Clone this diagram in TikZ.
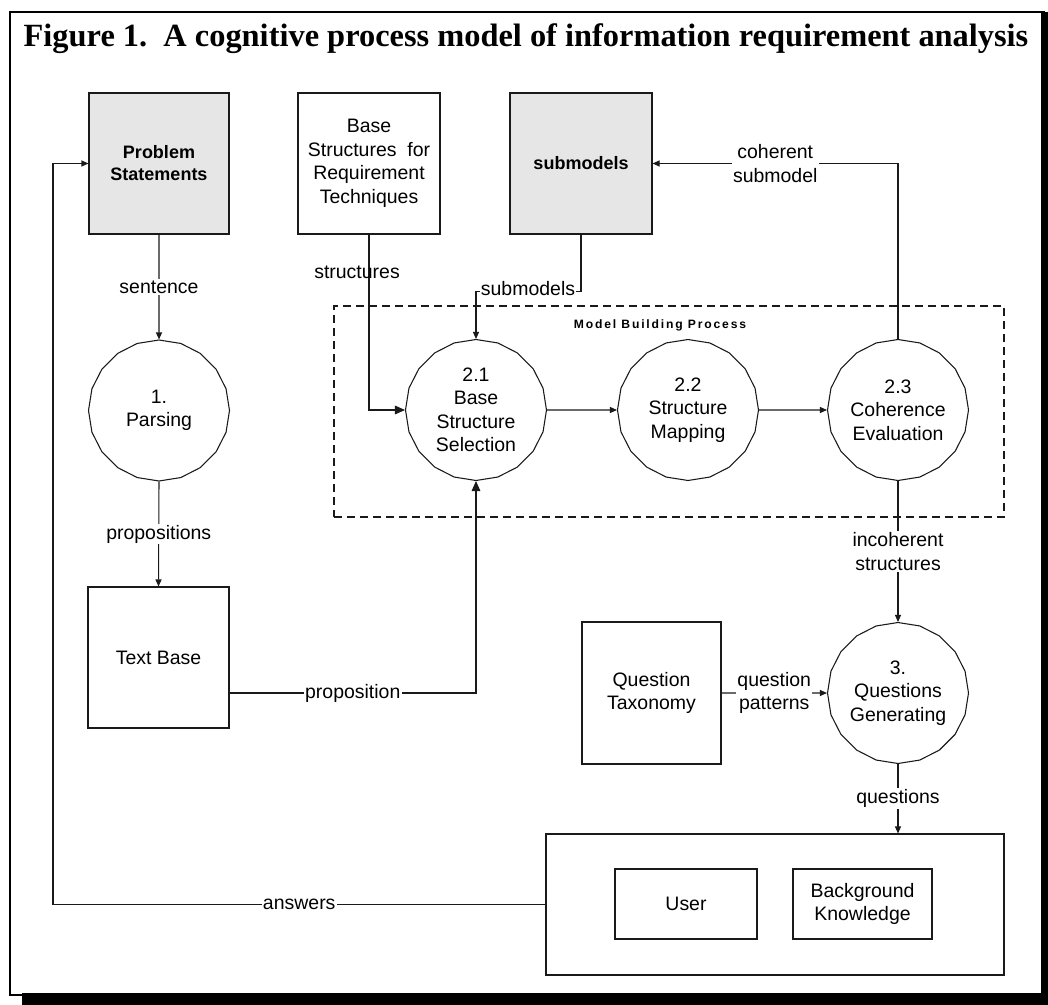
\documentclass[tikz,border=0pt]{standalone}
\usepackage{fontspec}
\setmainfont{Liberation Sans}
\newfontfamily\titlefont{Liberation Serif}
\usetikzlibrary{shapes.geometric,arrows.meta}
\newcommand\diagfont{\fontsize{14.6}{17.6}\selectfont}
\newcommand\diagbold{\fontsize{13.5}{16.5}\selectfont\bfseries}
\definecolor{linec}{HTML}{1A1A1A}
\definecolor{boxgray}{HTML}{E6E6E6}
\begin{document}
\begin{tikzpicture}[x=0.75pt,y=-0.75pt,
  every node/.style={font=\diagfont},
  box/.style={draw=linec, line width=0.8pt, fill=white, inner sep=0pt, align=center},
  graybox/.style={box, fill=boxgray, font=\diagbold},
  proc/.style={regular polygon, regular polygon sides=20, shape border rotate=9,
     draw=linec, line width=0.8pt, fill=white, minimum size=105.75pt, inner sep=0pt, align=center},
  conn/.style={draw=linec, line width=0.8pt},
  arr/.style={conn, -{Triangle[length=5.25pt,width=4.5pt]}},
  bigarr/.style={conn, -{Triangle[length=7.5pt,width=6.5pt]}},
  lbl/.style={fill=white, inner sep=1pt, align=center},
  plainlbl/.style={inner sep=1pt, align=center},
]
\useasboundingbox (0,0) rectangle (1048,1005);
% frame
\draw[line width=2pt] (10,12) rectangle (1044,995);
\fill (1041,12) rectangle (1048,1005);
\fill (22,993) rectangle (1048,1005);
% title
\node[anchor=base, font=\titlefont\bfseries\fontsize{24.3}{28}\selectfont] (title) at (526,47)
  {Figure 1.\ \ A cognitive process model of information requirement analysis};

% dashed group
\node[draw=linec, line width=0.8pt, dash pattern=on 6pt off 3.75pt,
      minimum width=502.5pt, minimum height=158.25pt, inner sep=0pt] (mbp) at (669,411.5) {};
\node[font=\fontsize{9.1}{11}\selectfont\bfseries\addfontfeature{LetterSpace=15}] (mbplbl) at (660,325) {Model Building Process};

% stores
\node[graybox, minimum width=105pt, minimum height=105.75pt] (prob) at (159,163.5) {Problem\\Statements};
\node[box, minimum width=106.5pt, minimum height=105.75pt] (base) at (369,163.5) {Base\\Structures\ \ for\\Requirement\\Techniques};
\node[graybox, minimum width=106.5pt, minimum height=105.75pt] (subm) at (581,163.5) {submodels};
\node[box, minimum width=105.75pt, minimum height=105.75pt] (tb) at (158.5,657.5) {Text Base};
\node[box, minimum width=104.25pt, minimum height=106.5pt] (qt) at (651.5,693) {Question\\Taxonomy};
\node[box, minimum width=343.5pt, minimum height=105.75pt] (big) at (775,904.5) {};
\node[box, minimum width=106.5pt, minimum height=52.5pt] (user) at (686,904) {User};
\node[box, minimum width=104.25pt, minimum height=52.5pt] (bg) at (862.5,904) {Background\\Knowledge};

% processes
\node[proc] (pars) at (159,410.5) {1.\\Parsing};
\node[proc] (p21) at (476,410) {2.1\\Base\\Structure\\Selection};
\node[proc] (p22) at (688,410) {2.2\\Structure\\Mapping};
\node[proc] (p23) at (898,410) {2.3\\Coherence\\Evaluation};
\node[proc] (p3) at (898,693) {3.\\Questions\\Generating};

% connectors
\draw[arr] (prob.south) -- node[lbl] {sentence} (pars.north);
\draw[arr] (pars.south) -- node[lbl] {propositions} (tb.north);
\draw[bigarr] (tb.east |- 0,693) -| node[lbl, pos=0.25] {proposition} (p21.south);
\draw[bigarr] (base.south) |- (p21.west);
\node[plainlbl] (lstruct) at (357,272) {structures};
\draw[arr] (subm.south) -- ++(0,57) -| (p21.north);
\node[lbl] (lsubm) at (528,289) {submodels};
\draw[arr] (p21.east) -- (p22.west);
\draw[arr] (p22.east) -- (p23.west);
\draw[arr] (p23.north) |- node[lbl, pos=0.75] {coherent\\submodel} (subm.east);
\draw[arr] (p23.south) -- node[lbl] {incoherent\\structures} (p3.north);
\draw[arr] (qt.east) -- node[lbl] {question\\patterns} (p3.west);
\draw[arr] (p3.south) -- node[lbl] {questions} (p3.south |- big.north);
\coordinate (ret) at (53,904.5);
\draw[arr] (big.west) -- node[lbl] {answers} (ret) |- (prob.west);
\end{tikzpicture}
\end{document}
